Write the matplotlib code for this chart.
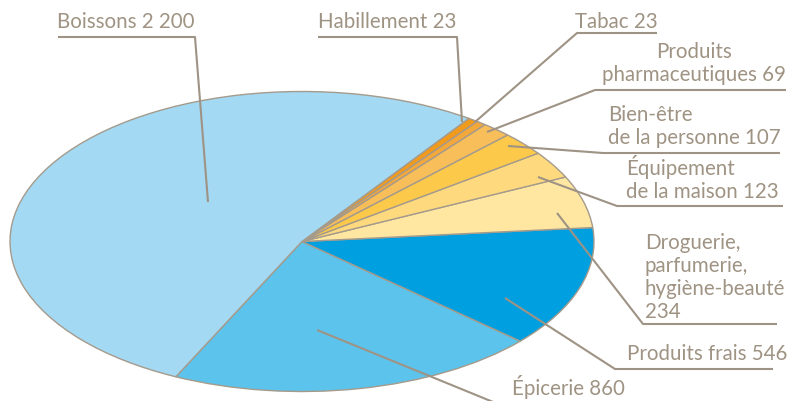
import matplotlib
matplotlib.use("Agg")
import matplotlib.pyplot as plt
from matplotlib.transforms import IdentityTransform

# ---- data (counter-clockwise order of slices) ----
categories = ["Épicerie", "Produits frais", "Droguerie, parfumerie, hygiène-beauté",
              "Équipement de la maison", "Bien-être de la personne",
              "Produits pharmaceutiques", "Tabac", "Habillement", "Boissons"]
values = [860, 546, 234, 123, 107, 69, 23, 23, 2200]
label_texts = ["Épicerie 860", "Produits frais 546",
               "Droguerie,\nparfumerie,\nhygiène-beauté\n234",
               "Équipement\nde la maison 123", "Bien-être\nde la personne 107",
               "Produits\npharmaceutiques 69", "Tabac 23", "Habillement 23",
               "Boissons 2 200"]
colors = ["#5cc4ec", "#009fe0", "#ffe7a1", "#fed97d", "#fdc94b",
          "#f8be5a", "#f5a83a", "#f29a1c", "#a3d9f3"]

W, H = 789, 401
fig = plt.figure(figsize=(W / 100, H / 100), dpi=100)
ax = fig.add_axes([0, 0, 1, 1])
edge = "#a59b8c"
ax.pie(values, colors=colors, startangle=-115.6, counterclock=True,
       radius=1, wedgeprops=dict(edgecolor=edge, linewidth=1.0))
ax.set_aspect("auto")
# ellipse centre (302, 241.5) px, semi-axes 292 x 150 px
cx, cy, rx, ry = 302, 241.5, 292, 150
ax.set_xlim(-cx / rx, (W - cx) / rx)
ax.set_ylim(-(H - cy) / ry, cy / ry)
ax.axis("off")

tc = "#9f9383"
fam = ["Lato", "DejaVu Sans"]
fs = 14.8
ID = IdentityTransform()

def P(x, y):
    return x, H - y

# layout: (text x, text baseline y of last line, ha, multi-align, leader polyline pts)
layout = {
    "Boissons 2 200": (57, 28, "left", "left", [(58, 37), (195, 37), (208, 202)]),
    "Habillement 23": (318, 28, "left", "left", [(318, 37), (457, 37), (462, 122)]),
    "Tabac 23": (575, 28, "left", "left", [(657, 33), (577, 33), (475, 122)]),
    "Produits\npharmaceutiques 69": (786, 81, "right", "center", [(786, 90), (595, 90), (487, 132)]),
    "Bien-être\nde la personne 107": (608, 144, "left", "left", [(780, 153), (603, 153), (508, 146)]),
    "Équipement\nde la maison 123": (626, 198, "left", "left", [(783, 206), (617, 206), (538, 177)]),
    "Droguerie,\nparfumerie,\nhygiène-beauté\n234": (645, 318, "left", "left", [(777, 324), (643, 324), (557, 213)]),
    "Produits frais 546": (627, 360, "left", "left", [(773, 369), (615, 369), (505, 298)]),
    "Épicerie 860": (512, 395, "left", "left", [(640, 404), (498, 404), (317, 330)]),
}

for lab in label_texts:
    tx, ty, ha, ma, pts = layout[lab]
    xs = [P(*p)[0] for p in pts]
    ys = [P(*p)[1] for p in pts]
    ax.plot(xs, ys, transform=ID, color="#9e9384", lw=1.5, solid_capstyle="butt",
            clip_on=False)
    fig.text(*P(tx, ty), lab, transform=ID, ha=ha, va="baseline", ma=ma,
             color=tc, fontsize=fs, family=fam, linespacing=1.18)

fig.savefig("out.png", dpi=100)
